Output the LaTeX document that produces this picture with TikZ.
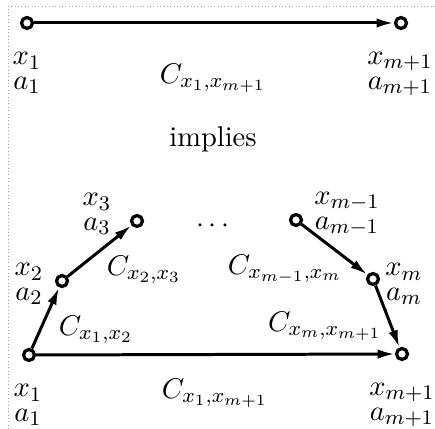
\documentclass[11pt,tikz,border=0pt]{standalone}
\usepackage{amsmath}
\usetikzlibrary{arrows.meta,positioning}

\tikzset{
    vertex/.style={circle,draw,fill=white,line width=1.25pt,inner sep=0pt,minimum size=4.2pt},
    link/.style={line width=1.15pt,-{Latex[length=6.6pt,width=3.6pt]}},
    tag/.style={align=center,inner sep=0pt},
}

\begin{document}
\begin{tikzpicture}[x=0.0135cm,y=-0.0135cm]
    \useasboundingbox (0,0) rectangle (435,429);
    \draw[densely dotted,gray!70,line width=0.3pt] (8,429) -- (8,6) -- (435,6);

    % one long path
    \node[vertex] (t1) at (27,23) {};
    \node[vertex] (tm) at (401,23) {};
    \draw[link] (t1) -- (tm);
    \node[tag] (tx1) at (27,73) {$x_1$\\[-4.2pt]$a_1$};
    \node[tag] (txm) at (400,74) {$x_{m+1}$\\[-4.2pt]$a_{m+1}$};
    \node (tc) at (213,78) {$C_{x_1,x_{m+1}}$};

    \node (impl) at (213,139) {implies};

    % chain of pieces
    \node[vertex] (p1) at (29,355) {};
    \node[vertex] (p2) at (62,281) {};
    \node[vertex] (p3) at (137,221) {};
    \node (dots) at (215,226) {$\cdots$};
    \node[vertex] (pk) at (296,220) {};
    \node[vertex] (pm) at (373,279) {};
    \node[vertex] (pn) at (402,354) {};

    \draw[link] (p1) -- (p2);
    \draw[link] (p2) -- (p3);
    \draw[link] (pk) -- (pm);
    \draw[link] (pm) -- (pn);
    \draw[link] (p1) -- (pn);

    \node[tag] (bx1) at (28,405) {$x_1$\\[-4.2pt]$a_1$};
    \node[tag] (bx2) at (29,284) {$x_2$\\[-4.2pt]$a_2$};
    \node[tag] (bx3) at (97,214) {$x_3$\\[-4.2pt]$a_3$};
    \node[tag] (bxk) at (347,214) {$x_{m-1}$\\[-4.2pt]$a_{m-1}$};
    \node[tag] (bxm) at (404,284) {$x_m$\\[-4.2pt]$a_m$};
    \node[tag] (bxn) at (402,405) {$x_{m+1}$\\[-4.2pt]$a_{m+1}$};

    \node (c12) at (96,330) {$C_{x_1,x_2}$};
    \node (c23) at (144,270) {$C_{x_2,x_3}$};
    \node (ckm) at (285,269) {$C_{x_{m-1},x_m}$};
    \node (cmn) at (325,326) {$C_{x_m,x_{m+1}}$};
    \node (c1n) at (215,393) {$C_{x_1,x_{m+1}}$};
\end{tikzpicture}
\end{document}
